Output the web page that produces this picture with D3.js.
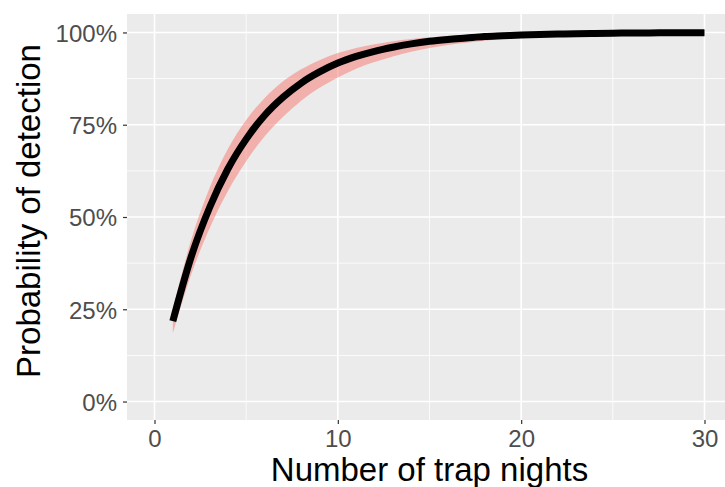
<!DOCTYPE html>
<html>
<head>
<meta charset="utf-8">
<script src="https://cdn.jsdelivr.net/npm/d3@7"></script>
<style>
  body { margin: 0; background: #fff; }
  text { font-family: "Liberation Sans", Arial, sans-serif; }
</style>
</head>
<body>
<div id="chart"></div>
<script>
// trap nights and detection probability (mean + band)
const nights = [1,2,3,4,5,6,7,8,9,10,11,12,13,14,15,16,17,18,19,20,21,22,23,24,25,26,27,28,29,30];
const meanP  = [0.218,0.392,0.525,0.630,0.711,0.775,0.824,0.863,0.893,0.917,0.935,0.949,0.960,0.969,0.976,0.981,0.985,0.989,0.991,0.993,0.9946,0.9958,0.9967,0.9974,0.998,0.9984,0.9988,0.999,0.9993,0.9994];
const lowerP = [0.185,0.344,0.469,0.570,0.651,0.718,0.771,0.815,0.850,0.878,0.902,0.920,0.935,0.948,0.958,0.966,0.972,0.9775,0.982,0.985,0.988,0.990,0.992,0.9937,0.9949,0.9958,0.9966,0.9973,0.9978,0.9982];
const upperP = [0.250,0.4375,0.578,0.684,0.763,0.822,0.867,0.900,0.925,0.944,0.958,0.968,0.976,0.982,0.987,0.990,0.9925,0.9944,0.9958,0.9968,0.9976,0.9982,0.9987,0.999,0.9992,0.9994,0.9996,0.9997,0.9998,0.9998];
const xTicks = [0, 10, 20, 30];
const xMinor = [5, 15, 25];
const yTicks = [0, 0.25, 0.5, 0.75, 1];
const yMinor = [0.125, 0.375, 0.625, 0.875];

const W = 725, H = 487;
const panel = {left: 127, top: 14, right: 732, bottom: 420};

const svg = d3.select("#chart").append("svg")
    .attr("width", W)
    .attr("height", H);

const x = d3.scaleLinear().domain([-1.5, 31.5]).range([panel.left, panel.right]);
const y = d3.scaleLinear().domain([-0.05, 1.05]).range([panel.bottom, panel.top]);

const data = nights.map((n, i) => ({n: n, m: meanP[i], lo: lowerP[i], hi: upperP[i]}));

// panel background
svg.append("rect")
    .attr("x", panel.left).attr("y", panel.top)
    .attr("width", panel.right - panel.left)
    .attr("height", panel.bottom - panel.top)
    .attr("fill", "#EBEBEB");

const grid = svg.append("g");
grid.selectAll(".ymin").data(yMinor).enter().append("line")
    .attr("x1", panel.left).attr("x2", panel.right)
    .attr("y1", d => y(d)).attr("y2", d => y(d))
    .attr("stroke", "#fff").attr("stroke-width", 0.8);
grid.selectAll(".xmin").data(xMinor).enter().append("line")
    .attr("y1", panel.top).attr("y2", panel.bottom)
    .attr("x1", d => x(d)).attr("x2", d => x(d))
    .attr("stroke", "#fff").attr("stroke-width", 0.8);
grid.selectAll(".ymaj").data(yTicks).enter().append("line")
    .attr("x1", panel.left).attr("x2", panel.right)
    .attr("y1", d => y(d)).attr("y2", d => y(d))
    .attr("stroke", "#fff").attr("stroke-width", 1.6);
grid.selectAll(".xmaj").data(xTicks).enter().append("line")
    .attr("y1", panel.top).attr("y2", panel.bottom)
    .attr("x1", d => x(d)).attr("x2", d => x(d))
    .attr("stroke", "#fff").attr("stroke-width", 1.6);

// confidence band
svg.append("path")
    .datum(data)
    .attr("d", d3.area()
        .x(d => x(d.n))
        .y0(d => y(d.lo))
        .y1(d => y(d.hi))
        .curve(d3.curveMonotoneX))
    .attr("fill", "#F8766D")
    .attr("fill-opacity", 0.5);

// mean line
svg.append("path")
    .datum(data)
    .attr("d", d3.line()
        .x(d => x(d.n))
        .y(d => y(d.m))
        .curve(d3.curveMonotoneX))
    .attr("fill", "none")
    .attr("stroke", "#000")
    .attr("stroke-width", 7);

// axes
const xAxis = svg.append("g")
    .attr("transform", `translate(0,${panel.bottom})`)
    .call(d3.axisBottom(x).tickValues(xTicks).tickSize(4).tickPadding(6));
const yAxis = svg.append("g")
    .attr("transform", `translate(${panel.left},0)`)
    .call(d3.axisLeft(y).tickValues(yTicks).tickSize(4).tickPadding(6).tickFormat(d3.format(".0%")));

[xAxis, yAxis].forEach(a => {
  a.select(".domain").remove();
  a.selectAll(".tick line").attr("stroke", "#333").attr("stroke-width", 1.2);
  a.selectAll(".tick text")
    .attr("fill", "#4D4D4D")
    .style("font-size", "24px")
    .style("font-family", "'Liberation Sans', Arial, sans-serif");
});
xAxis.selectAll(".tick text").attr("dy", "0.72em");
yAxis.selectAll(".tick text").attr("dy", "0.37em");

svg.append("text")
    .attr("x", (panel.left + panel.right) / 2)
    .attr("y", 481)
    .attr("text-anchor", "middle")
    .style("font-size", "33px")
    .attr("fill", "#000")
    .text("Number of trap nights");

svg.append("text")
    .attr("transform", `translate(40,211) rotate(-90)`)
    .attr("text-anchor", "middle")
    .style("font-size", "33px")
    .attr("fill", "#000")
    .text("Probability of detection");
</script>
</body>
</html>
